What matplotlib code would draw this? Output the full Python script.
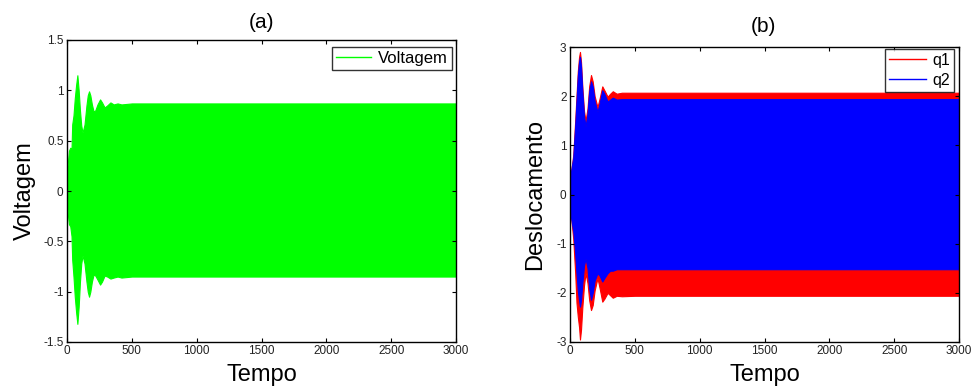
import matplotlib
matplotlib.use("Agg")
import matplotlib.pyplot as plt
from matplotlib.lines import Line2D
import numpy as np

plt.rcParams['font.family'] = ['Liberation Sans', 'DejaVu Sans']

# ---- data: envelopes of the dense oscillating signals ----
# (a) Voltagem
t_v = [0, 8, 15, 25, 35, 40, 50, 60, 70, 80, 90, 100, 110, 120, 135, 150, 160, 170, 180, 192, 205, 218, 235, 255, 270, 290, 310, 335, 360, 390, 420, 500, 700, 1000, 1500, 2000, 2500, 3000]
v_upper = [0.2, 0.3, 0.4, 0.43, 0.42, 0.66, 0.75, 0.92, 1.05, 1.15, 1.0, 0.8, 0.65, 0.58, 0.66, 0.85, 0.95, 0.99, 0.95, 0.86, 0.79, 0.8, 0.86, 0.91, 0.88, 0.83, 0.85, 0.88, 0.86, 0.87, 0.86, 0.87, 0.87, 0.87, 0.87, 0.87, 0.87, 0.87]
v_lower = [-0.1, -0.25, -0.33, -0.35, -0.45, -0.68, -0.85, -1.05, -1.2, -1.32, -1.15, -0.9, -0.72, -0.64, -0.72, -0.9, -1.0, -1.05, -1.0, -0.9, -0.83, -0.84, -0.88, -0.93, -0.9, -0.84, -0.85, -0.87, -0.86, -0.85, -0.86, -0.85, -0.85, -0.85, -0.85, -0.85, -0.85, -0.85]

# (b) Deslocamento: q1 and q2
t_d = [0, 10, 25, 40, 50, 60, 70, 77, 85, 95, 108, 120, 135, 148, 162, 175, 190, 212, 228, 249, 265, 290, 310, 330, 360, 400, 500, 700, 1000, 1500, 2000, 2500, 3000]
q1_upper = [0.3, 0.5, 0.8, 1.5, 2.0, 2.5, 2.8, 2.9, 2.7, 2.2, 1.7, 1.5, 1.75, 2.2, 2.43, 2.3, 2.0, 1.78, 1.95, 2.2, 2.12, 1.99, 2.05, 2.1, 2.05, 2.07, 2.07, 2.07, 2.07, 2.07, 2.07, 2.07, 2.07]
q1_lower = [-0.3, -0.5, -0.9, -1.6, -2.2, -2.48, -2.7, -2.95, -2.75, -2.3, -1.85, -1.6, -1.8, -2.15, -2.35, -2.25, -1.95, -1.7, -1.9, -2.18, -2.12, -2.0, -2.05, -2.1, -2.06, -2.07, -2.06, -2.06, -2.06, -2.06, -2.06, -2.06, -2.06]
q2_upper = [0.3, 0.5, 0.75, 1.4, 1.9, 2.4, 2.7, 2.8, 2.6, 2.1, 1.6, 1.38, 1.65, 2.1, 2.3, 2.2, 1.9, 1.68, 1.85, 2.12, 2.05, 1.89, 1.93, 1.97, 1.93, 1.94, 1.94, 1.94, 1.94, 1.94, 1.94, 1.94, 1.94]
q2_lower = [-0.3, -0.5, -0.75, -1.2, -1.6, -1.95, -2.15, -2.28, -2.15, -1.8, -1.45, -1.3, -1.5, -1.9, -2.14, -2.0, -1.75, -1.6, -1.65, -1.77, -1.7, -1.6, -1.55, -1.55, -1.52, -1.52, -1.52, -1.52, -1.52, -1.52, -1.52, -1.52, -1.52]

xticks = [0, 500, 1000, 1500, 2000, 2500, 3000]
yticks_a = [-1.5, -1, -0.5, 0, 0.5, 1, 1.5]
yticks_b = [-3, -2, -1, 0, 1, 2, 3]

W, H = 973, 387
fig = plt.figure(figsize=(W / 100, H / 100), dpi=100)
fig.patch.set_facecolor('white')

ax1 = fig.add_axes([67 / W, 1 - 342 / H, 389 / W, 302 / H])
ax2 = fig.add_axes([570 / W, 1 - 342 / H, 389 / W, 295 / H])

GREEN = (0, 1, 0)
RED = (1, 0, 0)
BLUE = (0, 0, 1)

ax1.fill_between(t_v, v_lower, v_upper, color=GREEN, lw=0.8, edgecolor=GREEN)
ax2.fill_between(t_d, q1_lower, q1_upper, color=RED, lw=0.8, edgecolor=RED)
ax2.fill_between(t_d, q2_lower, q2_upper, color=BLUE, lw=0.8, edgecolor=BLUE)


def fmt(v):
    return '%g' % v


for ax, yt in ((ax1, yticks_a), (ax2, yticks_b)):
    ax.set_xlim(0, 3000)
    ax.set_ylim(yt[0], yt[-1])
    ax.set_xticks(xticks)
    ax.set_xticklabels([fmt(v) for v in xticks])
    ax.set_yticks(yt)
    ax.set_yticklabels([fmt(v) for v in yt])
    ax.tick_params(direction='in', length=3, width=0.8, labelsize=8.5,
                   top=True, right=True, colors='black', labelcolor='#222222', pad=2.5)
    for sp in ax.spines.values():
        sp.set_linewidth(1.0)
        sp.set_color('black')
    ax.set_xlabel('Tempo', fontsize=17, labelpad=5)

ax1.set_ylabel('Voltagem', fontsize=17, labelpad=5)
ax2.set_ylabel('Deslocamento', fontsize=17, labelpad=7)

fig.text(261 / W, 1 - 22 / H, '(a)', fontsize=15, ha='center', va='center')
fig.text(763 / W, 1 - 27 / H, '(b)', fontsize=15, ha='center', va='center')

leg1 = ax1.legend([Line2D([], [], color=GREEN, lw=1)], ['Voltagem'],
                  loc='upper right', bbox_to_anchor=(0.9897, 0.9768),
                  fontsize=12, frameon=True, fancybox=False, handlelength=2.1,
                  borderpad=0.25, handletextpad=0.4, borderaxespad=0)
leg1.get_frame().set_edgecolor('black')
leg1.get_frame().set_linewidth(1.0)

leg2 = ax2.legend([Line2D([], [], color=RED, lw=1), Line2D([], [], color=BLUE, lw=1)],
                  ['q1', 'q2'],
                  loc='upper right', bbox_to_anchor=(0.987, 0.993),
                  fontsize=11.5, frameon=True, fancybox=False, handlelength=2.3,
                  borderpad=0.25, handletextpad=0.4, labelspacing=0.3, borderaxespad=0)
leg2.get_frame().set_edgecolor('black')
leg2.get_frame().set_linewidth(1.0)

fig.savefig('out.png', dpi=100, facecolor='white')
